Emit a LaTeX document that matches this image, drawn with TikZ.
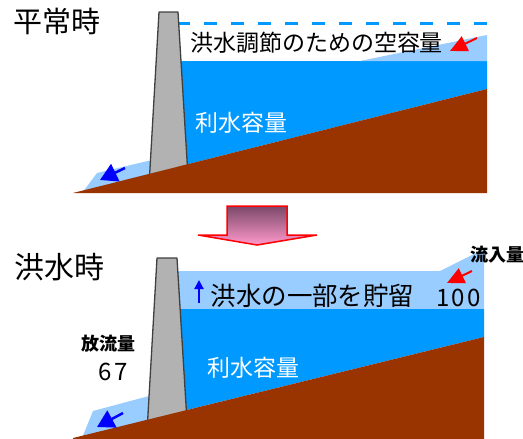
\documentclass[tikz,border=0pt]{standalone}
\usepackage{fontspec}
\newfontfamily\jp{Noto Sans CJK JP}
\usetikzlibrary{arrows.meta}

\definecolor{water}{HTML}{0099FF}
\definecolor{flood}{HTML}{99CCFF}
\definecolor{soil}{HTML}{993300}
\definecolor{concrete}{HTML}{B2B2B2}
\definecolor{arrowtop}{HTML}{7A4868}
\definecolor{arrowbot}{HTML}{FF99CC}

\begin{document}
\begin{tikzpicture}[x=1pt,y=-1pt,
	txt/.style={inner sep=0pt,font=\jp},
	num/.style={inner sep=0pt,font=\jp\addfontfeatures{LetterSpace=10}\fontsize{24}{24}\selectfont},
	inflow/.style={red,line width=2pt,-{Triangle[length=17pt,width=16pt]}},
	outflow/.style={blue,line width=2.5pt,-{Triangle[length=17pt,width=19pt]}},
	dam/.style={fill=concrete,draw=black!75,line width=1.3pt,line join=round}]
\useasboundingbox (0,0) rectangle (523,439);

% normal level
\fill[flood] (82,193) -- (97,173) -- (152,160) -- (152,182) -- cycle;
\fill[water] (178,61) -- (487,61) -- (487,89) -- (187,164.4) -- cycle;
\fill[flood] (360,61) -- (487,35) -- (487,61) -- cycle;
\draw[water,line width=3.5pt,dash pattern=on 13pt off 14pt] (177,23.5) -- (487,23.5);
\draw[dam] (149.5,177) -- (159,12) -- (178,12) -- (187.5,168) -- cycle;
\fill[soil] (73,193) -- (487,193) -- (487,89) -- cycle;

\node[txt,font=\jp\fontsize{29}{29}\selectfont] (normal) at (57,21.5) {平常時};
\node[txt,font=\jp\fontsize{23}{23}\selectfont] (space) at (316.5,43) {洪水調節のための空容量};
\node[txt,font=\jp\fontsize{23}{23}\selectfont,white] (store1) at (241.5,123) {利水容量};

\coordinate (in1) at (477,38);
\coordinate (in1e) at (450,51);
\draw[inflow] (in1) -- (in1e);
\coordinate (out1) at (125,168);
\coordinate (out1e) at (100,180);
\draw[outflow] (out1) -- (out1e);

% block arrow
\shade[top color=arrowtop,bottom color=arrowbot,draw=red,line width=1.5pt,line join=miter]
	(227,206) -- (287,206) -- (287,235) -- (317,235) -- (257,245) -- (198,235) -- (227,235) -- cycle;

% flood level
\fill[flood] (82,438) -- (93,411) -- (149,396) -- (149,428) -- cycle;
\fill[flood] (177,271) -- (440,271) -- (484,249) -- (484,309) -- (177,309) -- cycle;
\fill[water] (178,309) -- (484,309) -- (484,337) -- (186,410.2) -- cycle;
\draw[dam] (147.5,423) -- (157,258) -- (177,258) -- (186.5,413) -- cycle;
\fill[soil] (73,439) -- (484,439) -- (484,337) -- (73,438) -- cycle;

\node[txt,font=\jp\fontsize{30}{30}\selectfont] (flood) at (60,267.5) {洪水時};
\node[txt,font=\jp\fontsize{25.5}{25.5}\selectfont] (keep) at (312.5,296) {洪水の一部を貯留};
\node[txt,font=\jp\fontsize{23}{23}\selectfont,white] (store2) at (253.5,367.5) {利水容量};
\node[txt,font=\jp\bfseries\fontsize{18}{18}\selectfont,anchor=west] (inname) at (470,255) {流入量};
\node[num] (inval) at (458.5,298) {100};
\node[txt,font=\jp\bfseries\fontsize{18}{18}\selectfont] (outname) at (108.5,344) {放流量};
\node[num] (outval) at (113,371.5) {67};

\coordinate (rise) at (199,303);
\coordinate (rise1) at (199,280);
\draw[blue,line width=2pt,-{Triangle[length=9pt,width=9pt]}] (rise) -- (rise1);
\coordinate (in2) at (472,271);
\coordinate (in2e) at (447,283);
\draw[inflow] (in2) -- (in2e);
\coordinate (out2) at (123,413);
\coordinate (out2e) at (97,427);
\draw[outflow] (out2) -- (out2e);
\end{tikzpicture}
\end{document}
